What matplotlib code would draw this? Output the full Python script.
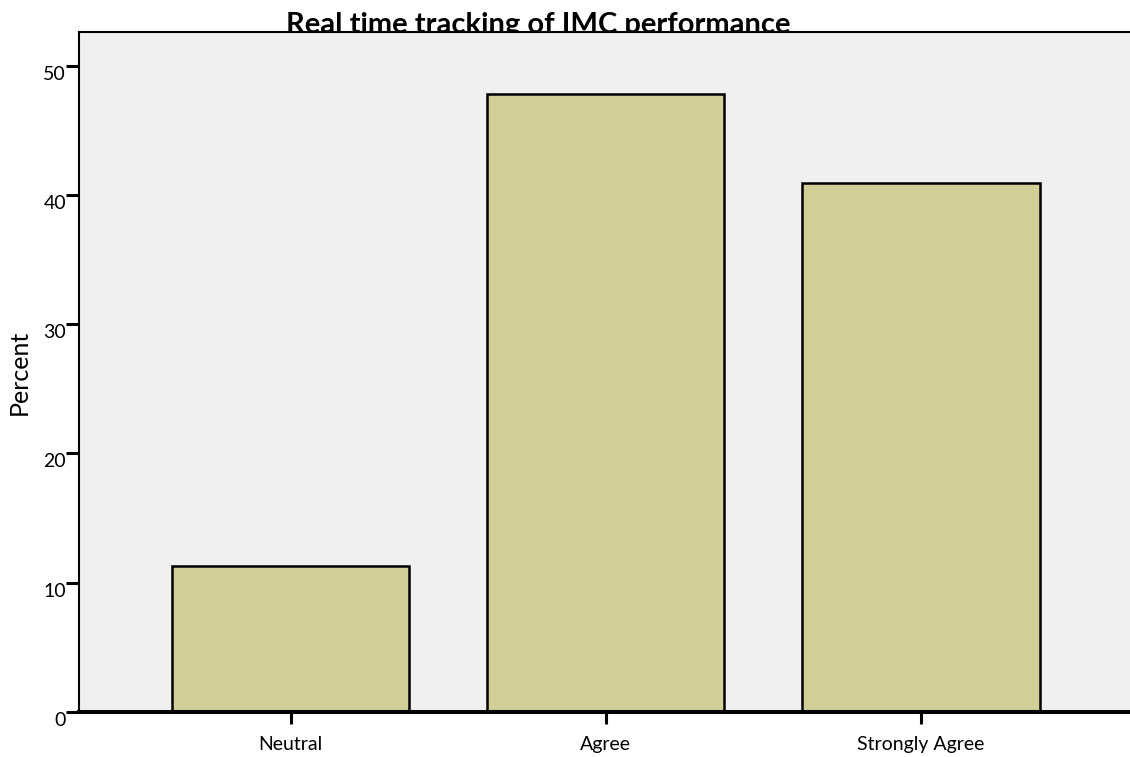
import matplotlib.pyplot as plt
import numpy as np

categories = ["Neutral", "Agree", "Strongly Agree"]
percent = [11.3, 47.8, 40.9]
yticks = [0, 10, 20, 30, 40, 50]

plt.rcParams["font.family"] = ["Lato", "DejaVu Sans"]

fig = plt.figure(figsize=(11.3, 7.57), dpi=100)
ax = fig.add_axes([79 / 1130, 1 - 712 / 757, 1 - 79 / 1130, (712 - 32) / 757])
ax.set_facecolor("#F0F0F0")

# sizes below are in points (1 px = 0.72 pt at 100 dpi)
x = np.arange(len(categories))
ax.bar(x, percent, width=0.752, color="#D3CE98", edgecolor="black", linewidth=1.8, zorder=2)

ax.set_xlim(-0.671, 2.663)
ax.set_ylim(0, 52.6)

ax.set_xticks(x)
ax.set_xticklabels(categories, fontsize=14)
ax.set_yticks(yticks)
ax.set_yticklabels([str(t) for t in yticks], fontsize=14, va="top")
ax.tick_params(axis="x", length=8.6, width=2.2, pad=9)
ax.tick_params(axis="y", length=9.4, width=2.2, pad=0)

for side in ["left", "top"]:
    ax.spines[side].set_linewidth(1.5)
ax.spines["bottom"].set_linewidth(2.9)
ax.spines["right"].set_visible(False)

ax.set_ylabel("Percent", fontsize=18, labelpad=9)

fig.text(538 / 1130, 1 - 33 / 757, "Real time tracking of IMC performance",
         fontsize=21, fontweight="bold", ha="center", va="baseline", zorder=-1)

fig.savefig("out.png", dpi=100)
